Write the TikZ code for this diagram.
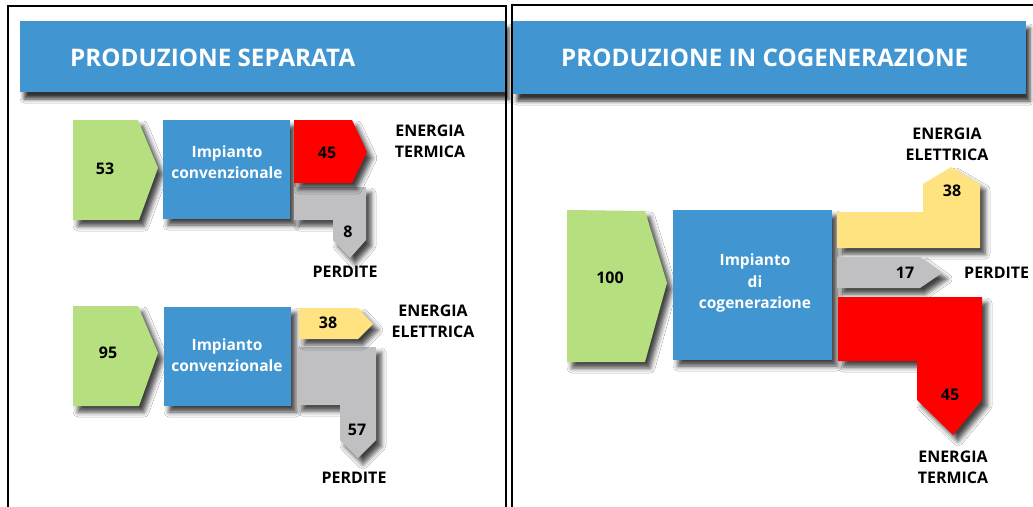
\documentclass[tikz,border=0pt]{standalone}
\usepackage{fontspec}
\setmainfont{Open Sans}
\usetikzlibrary{shadows.blur}
\definecolor{cblue}{HTML}{4196D1}
\definecolor{cgreen}{HTML}{B6DF80}
\definecolor{cred}{HTML}{FF0000}
\definecolor{cyellow}{HTML}{FFE380}
\definecolor{cgray}{HTML}{C0C0C2}
\tikzset{
  shd/.style={blur shadow={shadow xshift=5pt, shadow yshift=-6pt, shadow blur radius=5pt, shadow opacity=75}},
  barshd/.style={blur shadow={shadow xshift=4pt, shadow yshift=-7pt, shadow blur radius=4pt, shadow opacity=80}},
  frame/.style={draw=black, line width=2pt},
  numtxt/.style={font=\fontsize{16}{18}\selectfont\bfseries, text=black, inner sep=0pt},
  boxtxt/.style={font=\fontsize{15.5}{21.5}\selectfont\bfseries, text=white, align=center, inner sep=0pt},
  lbl/.style={font=\fontsize{16}{21}\selectfont\bfseries, align=center, inner sep=0pt, text=black},
  titletxt/.style={font=\fontsize{24.2}{28}\selectfont\bfseries, text=white, anchor=base west, inner sep=0pt},
}
\begin{document}
\begin{tikzpicture}[x=1pt,y=-1pt]
\useasboundingbox (0,0) rectangle (1033,506);
\clip (0,0) rectangle (1033,506);
\fill[white] (0,0) rectangle (1033,506);
% frames
\draw[frame] (8,6) rectangle (506,530);
\draw[frame] (512,5) rectangle (1050,530);
% title bars
\fill[cblue, barshd] (20,21) rectangle (505,92);
\fill[cblue, barshd] (513,21) rectangle (1026,94);
\node[titletxt] (t1) at (70,66) {PRODUZIONE SEPARATA};
\node[titletxt] (t2) at (561,66) {PRODUZIONE IN COGENERAZIONE};

% ---------- left panel, top row ----------
\fill[cgreen, shd] (73,120) -- (138,120) -- (158,168) -- (139,220) -- (73,220) -- cycle;
\node[numtxt] (n53) at (105,169) {53};
\fill[cblue, shd] (163,120) rectangle (290,219);
\node[boxtxt] (imp1) at (227,162) {Impianto\\convenzionale};
\fill[cgray, shd] (294,187) -- (366,187) -- (366,240) -- (350,258) -- (333,240) -- (333,220) -- (294,220) -- cycle;
\fill[cred, shd] (294,120) -- (352,120) -- (367,152) -- (352,183) -- (294,183) -- cycle;
\node[numtxt] (n45a) at (327,153) {45};
\node[numtxt] (n8) at (348,232) {8};
\node[lbl] (perd1) at (345,272) {PERDITE};
\node[lbl] (term1) at (430,141) {ENERGIA\\TERMICA};

% ---------- left panel, bottom row ----------
\fill[cgreen, shd] (73,306) -- (138,306) -- (158,353) -- (139,406) -- (73,406) -- cycle;
\node[numtxt] (n95) at (108,353) {95};
\fill[cblue, shd] (164,307) rectangle (291,406);
\node[boxtxt] (imp2) at (227,355) {Impianto\\convenzionale};
\fill[cgray, shd] (297,347) -- (376,347) -- (376,440) -- (358,458) -- (340,440) -- (340,405) -- (297,405) -- cycle;
\fill[cyellow, shd] (299,308) -- (358,308) -- (373,324) -- (358,339) -- (299,339) -- cycle;
\node[numtxt] (n38a) at (328,323) {38};
\node[numtxt] (n57) at (357,430) {57};
\node[lbl] (perd2) at (354,478) {PERDITE};
\node[lbl] (elet1) at (433,321) {ENERGIA\\ELETTRICA};

% ---------- right panel ----------
\fill[cgreen, shd] (567,210) -- (645,211) -- (667,283) -- (645,362) -- (567,362) -- cycle;
\node[numtxt] (n100) at (610,278) {100};
\fill[cblue, shd] (673,210) rectangle (832,360);
\node[boxtxt] (imp3) at (755,283) {Impianto\\di\\cogenerazione};
\fill[cyellow, shd] (837,212) -- (923,212) -- (923,184) -- (951,167) -- (980,184) -- (980,248) -- (837,248) -- cycle;
\node[numtxt] (n38b) at (952,191) {38};
\node[lbl] (elet2) at (947,144) {ENERGIA\\ELETTRICA};
\fill[cgray, shd] (837,257) -- (920,257) -- (942,273) -- (920,288) -- (837,288) -- cycle;
\node[numtxt] (n17) at (905,273) {17};
\node[lbl, anchor=west] (perd3) at (964,273) {PERDITE};
\fill[cred, shd] (838,297) -- (982,297) -- (982,400) -- (953,435) -- (917,400) -- (917,361) -- (838,361) -- cycle;
\node[numtxt] (n45b) at (950,395) {45};
\node[lbl] (term2) at (953,467) {ENERGIA\\TERMICA};
\end{tikzpicture}
\end{document}
